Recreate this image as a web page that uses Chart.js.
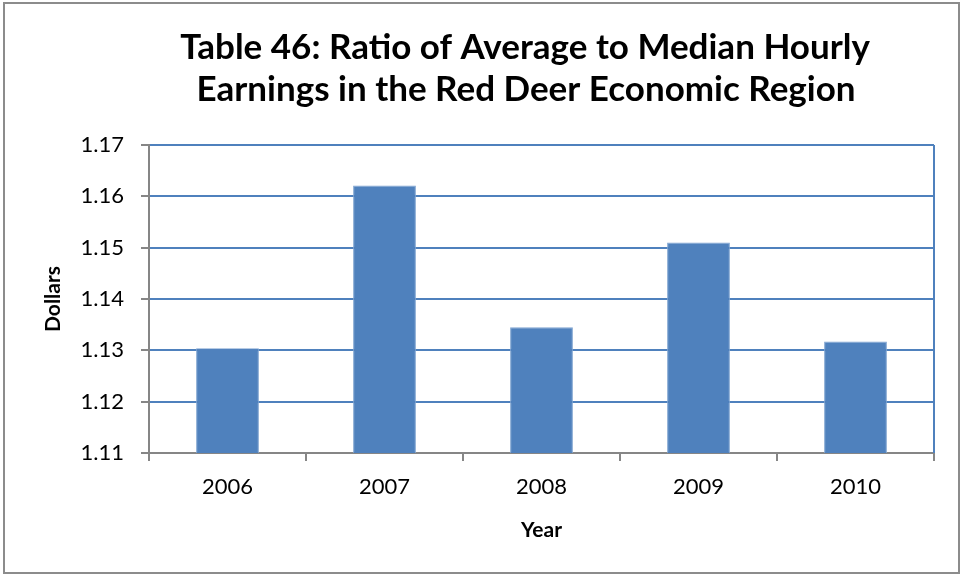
<!DOCTYPE html>
<html>
<head>
<meta charset="utf-8">
<script src="https://cdn.jsdelivr.net/npm/chart.js@4/dist/chart.umd.min.js"></script>
<style>
  html, body { margin: 0; padding: 0; background: #fff; }
  #wrap { width: 963px; height: 577px; position: relative; }
</style>
</head>
<body>
<div id="wrap"><canvas id="myChart" width="963" height="577"></canvas></div>
<script>
// chart data
var years = ['2006', '2007', '2008', '2009', '2010'];
var ratios = [1.1304, 1.1621, 1.1345, 1.1510, 1.1317];
var yTicks = [1.11, 1.12, 1.13, 1.14, 1.15, 1.16, 1.17];
var titleLines = ['Table 46: Ratio of Average to Median Hourly', 'Earnings in the Red Deer Economic Region'];

var fontFamily = "Lato, 'Open Sans', sans-serif";
var blue = '#4F81BD';
var axisGray = '#868686';

// outer frame, title (placed off-center like the original) and blue right edge of the plot
var framePlugin = {
    id: 'frame',
    beforeDraw: function (chart) {
        var ctx = chart.ctx;
        ctx.save();
        ctx.fillStyle = '#fff';
        ctx.fillRect(0, 0, chart.width, chart.height);
        ctx.strokeStyle = '#8c8c8c';
        ctx.lineWidth = 2;
        ctx.strokeRect(4, 3, chart.width - 8, chart.height - 7);

        ctx.fillStyle = '#000';
        ctx.font = 'bold 35px ' + fontFamily;
        ctx.textAlign = 'center';
        ctx.textBaseline = 'middle';
        ctx.fillText(titleLines[0], 525, 48);
        ctx.fillText(titleLines[1], 526, 90);
        ctx.restore();
    },
    afterDatasetsDraw: function (chart) {
        var a = chart.chartArea;
        var ctx = chart.ctx;
        ctx.save();
        ctx.strokeStyle = blue;
        ctx.lineWidth = 2;
        ctx.beginPath();
        ctx.moveTo(a.right, a.top);
        ctx.lineTo(a.right, a.bottom);
        ctx.stroke();
        ctx.restore();
    }
};

new Chart('myChart', {
    type: 'bar',
    data: {
        labels: years,
        datasets: [{
            data: ratios,
            backgroundColor: blue,
            borderColor: '#7FA4D1',
            borderWidth: 1,
            barPercentage: 0.4,
            categoryPercentage: 1
        }]
    },
    plugins: [framePlugin],
    options: {
        responsive: false,
        animation: false,
        layout: { padding: { left: 41, right: 29, top: 145, bottom: 34 } },
        plugins: {
            legend: { display: false },
            tooltip: { enabled: false },
            title: { display: false }
        },
        scales: {
            x: {
                offset: true,
                afterFit: function (scale) { scale.height = 90; },
                grid: {
                    offset: true,
                    drawOnChartArea: false,
                    tickLength: 8,
                    tickColor: axisGray,
                    lineWidth: 2
                },
                border: { color: axisGray, width: 2 },
                ticks: { color: '#000', font: { family: fontFamily, size: 22 }, padding: 13 },
                title: {
                    display: true,
                    text: 'Year',
                    color: '#000',
                    font: { family: fontFamily, size: 21, weight: 'bold' },
                    padding: { top: 0, bottom: 0 }
                }
            },
            y: {
                min: 1.11,
                max: 1.17,
                afterBuildTicks: function (scale) {
                    scale.ticks = yTicks.map(function (v) { return { value: v }; });
                },
                afterFit: function (scale) { scale.width = 108; },
                grid: {
                    color: blue,
                    lineWidth: 2,
                    tickLength: 8,
                    tickColor: axisGray
                },
                border: { color: axisGray, width: 2 },
                ticks: {
                    color: '#000',
                    font: { family: fontFamily, size: 22 },
                    padding: 17,
                    callback: function (v) { return v.toFixed(2); }
                },
                title: {
                    display: true,
                    text: 'Dollars',
                    color: '#000',
                    font: { family: fontFamily, size: 21, weight: 'bold' },
                    padding: { top: 0, bottom: 0 }
                }
            }
        }
    }
});
</script>
</body>
</html>
